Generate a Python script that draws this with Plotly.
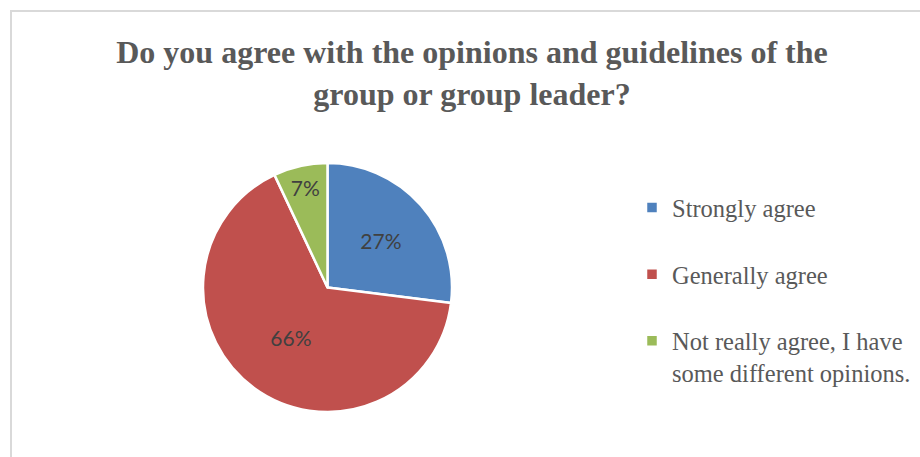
import plotly.graph_objects as go

# Survey responses (share of respondents)
labels = [
    "Strongly agree",
    "Generally agree",
    "Not really agree, I have",
]
label_tails = [" ", " ", "some different opinions."]
values = [27, 66, 7]
colors = ["#4f81bd", "#c0504d", "#9bbb59"]

title_text = "Do you agree with the opinions and guidelines of the<br>group or group leader?"

W, H = 920, 457

legend_labels = [f"{a}<br>{b}" for a, b in zip(labels, label_tails)]

fig = go.Figure(
    go.Pie(
        labels=legend_labels,
        values=values,
        sort=False,
        direction="clockwise",
        rotation=0,
        marker=dict(colors=colors, line=dict(color="white", width=2.5)),
        textinfo="percent",
        texttemplate="%{percent:.0%}",
        textposition="inside",
        insidetextorientation="horizontal",
        textfont=dict(family="Lato", size=21, color="#404040"),
        domain=dict(x=[203 / W, 452 / W], y=[1 - 412 / H, 1 - 163 / H]),
    )
)

frame = "#d9d9d9"
fig.update_layout(
    width=W,
    height=H,
    margin=dict(l=0, r=0, t=0, b=0),
    paper_bgcolor="white",
    plot_bgcolor="white",
    title=dict(
        text=title_text,
        font=dict(family="Liberation Serif", size=32, color="#595959", weight="bold"),
        x=472 / W,
        xanchor="center",
        xref="paper",
        y=1 - 63 / H,
        yanchor="top",
        yref="container",
    ),
    legend=dict(
        x=632 / W,
        y=1 - 185 / H,
        xanchor="left",
        yanchor="top",
        valign="top",
        font=dict(family="Liberation Serif", size=24.5, color="#595959"),
        bgcolor="rgba(0,0,0,0)",
        itemclick=False,
    ),
    shapes=[
        dict(type="line", xref="paper", yref="paper",
             x0=10 / W, x1=1.0, y0=1 - 11 / H, y1=1 - 11 / H,
             line=dict(color=frame, width=2)),
        dict(type="line", xref="paper", yref="paper",
             x0=11 / W, x1=11 / W, y0=0, y1=1 - 10 / H,
             line=dict(color=frame, width=2)),
    ],
)

fig.write_html("out.html")
